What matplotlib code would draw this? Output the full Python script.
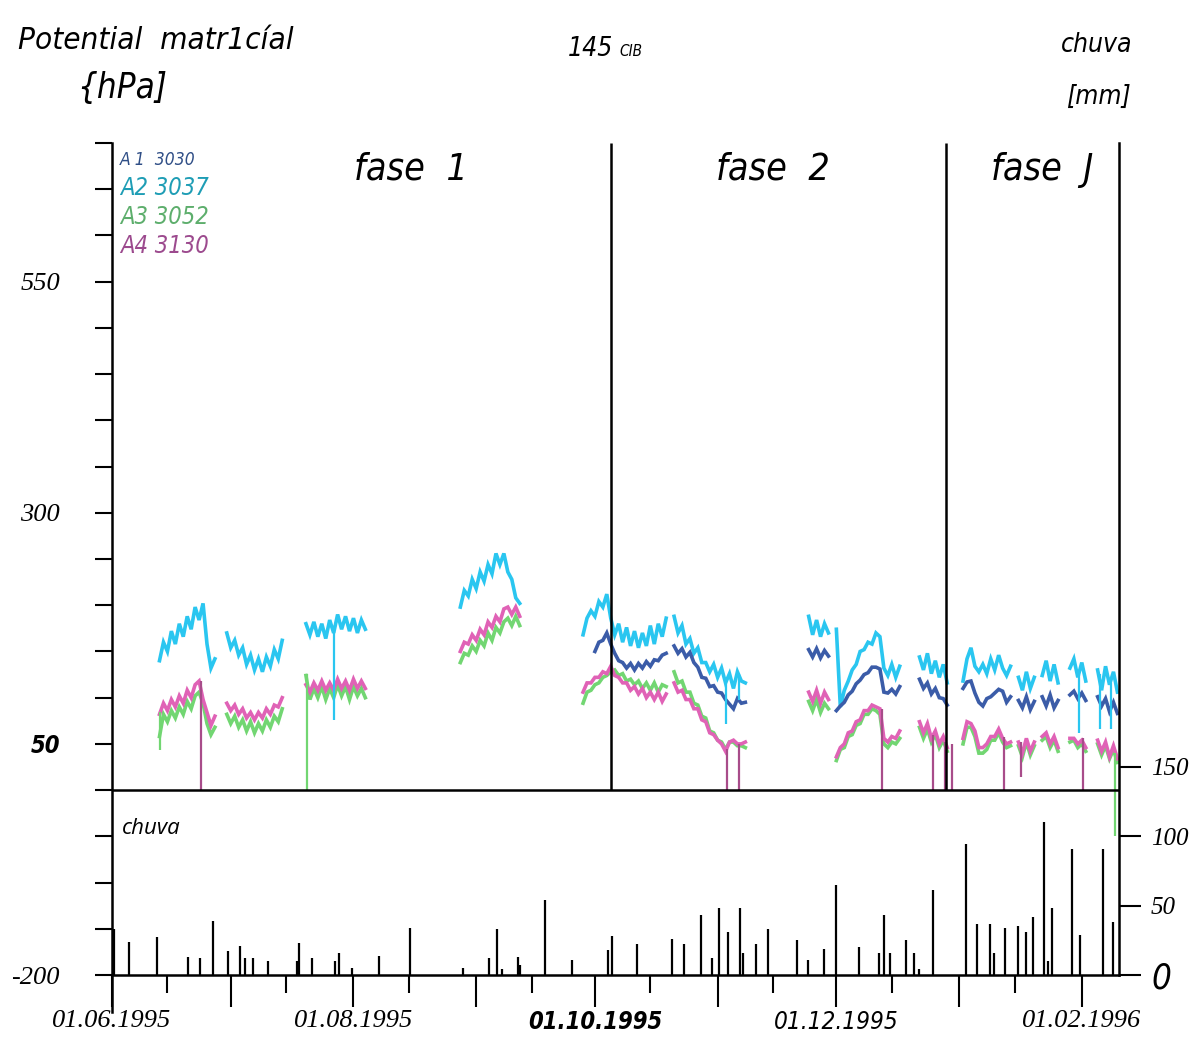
""" Matric potential (tensiometers A1-A4, 145 CIB) and daily rain, 1995/96
"""
import os
import numpy as np
import pandas as pd
import matplotlib
matplotlib.use('Agg')
import matplotlib.pyplot as plt
from matplotlib import font_manager as fm

# time axis: days counted from 01.06.1995
T0 = pd.Timestamp('1995-06-01')
XMAX = 254.4
PHASE_DAYS = [126.0, 210.8]

# ---- tensiometer readings [hPa], one value per day, per data block ----
seg_start = [12, 29, 49, 88, 119, 142, 176, 183, 204, 215, 229, 235, 242, 249]

a2_vals = [
    [140, 160, 150, 172, 158, 180, 166, 188, 174, 198, 184, 202, 158, 132, 142],
    [170, 154, 162, 146, 154, 136, 146, 130, 142, 128, 144, 134, 152, 142, 162],
    [180, 168, 182, 166, 180, 164, 184, 170, 190, 174, 188, 172, 186, 170, 184, 174],
    [198, 216, 210, 228, 218, 236, 226, 244, 234, 256, 244, 256, 236, 228, 208, 202],
    [168, 186, 194, 188, 204, 198, 212, 186, 168, 180, 160, 176, 156, 172, 154, 170,
     156, 178, 158, 180, 166, 186],
    [188, 170, 178, 158, 164, 148, 154, 138, 138, 128, 136, 122, 132, 116, 126, 110,
     128, 118, 116],
    [188, 168, 184, 166, 180, 170],
    [174, 90, 108, 118, 130, 136, 150, 152, 160, 158, 170, 166, 132, 124, 136, 122, 134],
    [144, 130, 148, 126, 140, 122, 136, 116],
    [118, 142, 154, 134, 128, 136, 126, 142, 130, 146, 132, 124, 134],
    [122, 108, 128, 110, 122],
    [124, 140, 118, 136, 116],
    [132, 142, 122, 138, 118],
    [130, 108, 134, 114, 128, 106],
]

# A1 only starts on day 122
a1_start = [122, 142, 176, 183, 204, 215, 229, 235, 242, 249]
a1_vals = [
    [150, 160, 162, 170, 158, 148, 140, 138, 132, 137, 130, 137, 132, 139, 134, 141,
     140, 146, 148],
    [156, 148, 153, 144, 149, 138, 133, 122, 121, 112, 113, 106, 105, 98, 93, 88,
     99, 94, 95],
    [152, 144, 153, 143, 151, 145],
    [86, 91, 95, 103, 107, 115, 119, 125, 127, 133, 133, 131, 106, 105, 109, 104, 112],
    [120, 110, 116, 104, 110, 100, 99, 92],
    [110, 117, 118, 105, 95, 91, 99, 101, 105, 109, 107, 95, 101],
    [97, 89, 101, 87, 96],
    [101, 91, 103, 89, 97],
    [103, 107, 99, 105, 97],
    [101, 91, 99, 85, 95, 83],
]

a3_vals = [
    [58, 82, 74, 86, 78, 90, 82, 96, 88, 102, 106, 94, 72, 60, 68],
    [82, 72, 80, 68, 76, 64, 74, 62, 72, 64, 76, 68, 80, 74, 88],
    [124, 98, 110, 100, 112, 98, 110, 100, 114, 102, 112, 98, 112, 102, 110, 100],
    [138, 148, 146, 156, 150, 162, 156, 170, 162, 176, 170, 182, 186, 178, 188, 178],
    [94, 106, 108, 114, 116, 122, 124, 128, 130, 124, 126, 118, 120, 114, 118, 110,
     116, 108, 116, 106, 114, 112],
    [128, 116, 118, 106, 106, 94, 92, 80, 78, 64, 62, 54, 52, 44, 52, 52, 48, 48, 46],
    [96, 86, 98, 84, 94, 88],
    [32, 44, 46, 58, 60, 70, 72, 82, 82, 88, 86, 82, 50, 46, 52, 50, 56],
    [68, 56, 66, 52, 60, 46, 54, 42],
    [50, 68, 68, 58, 40, 40, 44, 54, 54, 62, 52, 46, 48],
    [48, 36, 52, 38, 48],
    [54, 58, 46, 54, 42],
    [52, 54, 46, 50, 42],
    [50, 38, 48, 34, 44, 30],
]

a4_vals = [
    [82, 94, 86, 98, 90, 102, 94, 108, 100, 114, 118, 98, 84, 70, 80],
    [94, 86, 92, 82, 88, 78, 84, 76, 84, 78, 88, 82, 92, 90, 100],
    [114, 106, 116, 108, 118, 108, 116, 108, 120, 110, 118, 108, 120, 110, 118, 110],
    [150, 160, 158, 168, 162, 174, 168, 182, 176, 188, 182, 196, 198, 190, 198, 188],
    [106, 116, 116, 122, 122, 128, 126, 134, 124, 122, 116, 116, 108, 112, 104, 110,
     100, 106, 98, 106, 96, 104],
    [116, 106, 108, 98, 98, 88, 88, 76, 74, 62, 60, 54, 50, 42, 52, 54, 50, 50, 52],
    [106, 96, 108, 94, 106, 98],
    [36, 46, 50, 62, 64, 74, 76, 86, 86, 92, 90, 88, 56, 52, 58, 56, 64],
    [74, 62, 72, 56, 64, 50, 58, 46],
    [56, 74, 72, 64, 46, 46, 50, 58, 58, 66, 56, 50, 52],
    [52, 40, 56, 42, 52],
    [58, 62, 50, 58, 46],
    [56, 56, 50, 54, 46],
    [54, 42, 52, 36, 48, 34],
]

# single readings that drop far out of the band (day, from, to)
a2_drop_day = [56.2, 155.2, 158.3, 244.2, 249.6, 252.4]
a2_drop_top = [178, 118, 126, 124, 126, 116]
a2_drop_bot = [76, 72, 97, 62, 66, 66]
a3_drop_day = [12.1, 49.3, 253.3]
a3_drop_top = [84, 126, 40]
a3_drop_bot = [43, 0, -50]
a4_drop_day = [22.6, 155.4, 158.4, 194.5, 207.4, 210.4, 212.2, 225.3, 229.6, 245.4]
a4_drop_top = [118, 44, 50, 88, 60, 52, 50, 58, 52, 56]
a4_drop_bot = [0, 0, 0, 0, 0, 0, 0, 0, 14, 0]

# ---- daily rain [mm] ----
rain_day = [0.4, 4.4, 11.3, 19.1, 22.2, 25.4, 29.3, 32.3, 33.6, 35.6,
            39.4, 46.7, 47.2, 50.5, 56.3, 57.3, 60.6, 67.4, 75.2, 88.6,
            95.3, 97.3, 98.5, 102.5, 103.1, 109.5, 116.3, 125.4, 126.4, 132.7,
            141.6, 144.6, 148.9, 151.5, 153.4, 155.6, 158.7, 159.3, 162.6, 165.7,
            173.0, 175.9, 179.8, 182.9, 188.7, 193.7, 195.0, 196.6, 200.5, 202.7,
            203.9, 207.5, 215.8, 218.5, 221.9, 222.8, 225.6, 228.8, 230.8, 232.7,
            235.4, 236.4, 237.5, 242.5, 244.5, 250.3, 252.9]
rain_mm = [33, 24, 27, 13, 12, 39, 17, 21, 12, 12,
           10, 10, 23, 12, 10, 16, 5, 14, 34, 5,
           12, 33, 4, 13, 7, 54, 11, 18, 28, 22,
           26, 22, 43, 12, 48, 31, 48, 16, 22, 33,
           25, 11, 19, 65, 20, 16, 43, 16, 25, 16,
           4, 61, 94, 37, 37, 16, 34, 35, 31, 42,
           110, 10, 48, 91, 29, 91, 38]

names = ['A 1  3030', 'A2 3037', 'A3 3052', 'A4 3130']
line_colors = ['#3b5ca8', '#2ac6f0', '#72d672', '#e062b6']
text_colors = ['#2f4e86', '#1e9db5', '#5dae6c', '#9c4a8e']

SERIF = ['Liberation Serif', 'DejaVu Serif']
W, H = 1195, 1037


def find_font(patterns):
    """ path of the first installed font file whose name starts with a pattern """
    files = sorted({f.fname for f in fm.fontManager.ttflist})
    for p in patterns:
        for fn in files:
            if os.path.basename(fn).lower().startswith(p.lower()):
                return fn
    return None


cond_file = find_font(['NotoSans-ExtraCondensedItalic', 'NotoSans-CondensedItalic',
                       'LiberationSansNarrow-Italic', 'DejaVuSansCondensed-Oblique'])
condb_file = find_font(['NotoSans-CondensedBoldItalic', 'NotoSans-SemiCondensedBoldItalic',
                        'LiberationSansNarrow-BoldItalic',
                        'DejaVuSansCondensed-BoldOblique'])


def cfont(size, bold=False):
    fn = condb_file if bold else cond_file
    if fn is not None:
        return fm.FontProperties(fname=fn, size=size)
    return fm.FontProperties(family=['Liberation Sans', 'DejaVu Sans'], style='italic',
                             weight='bold' if bold else 'normal', size=size * 0.9)


def join_segments(starts, vals):
    """ one x/y pair with NaN gaps between the blocks """
    xs, ys = [], []
    for s, v in zip(starts, vals):
        xs += list(np.arange(s, s + len(v))) + [np.nan]
        ys += list(v) + [np.nan]
    return np.array(xs, dtype=float), np.array(ys, dtype=float)


def fx(px):
    return px / W


def fy(py):
    return 1 - py / H


fig = plt.figure(figsize=(W / 100, H / 100), dpi=100)
ax = fig.add_axes([fx(112), fy(1012), (1119 - 112) / W, (1012 - 143) / H])
ax.set_xlim(0, XMAX)
ax.set_ylim(-240, 700)
# rain axis shares the plot, 0 mm sits on -200 hPa
k = (1012 - 143) / 940 / 1.39
ax2 = ax.twinx()
ax2.set_ylim(-40 * k, 900 * k)

# series
for starts, vals, col in [(seg_start, a2_vals, line_colors[1]),
                          (a1_start, a1_vals, line_colors[0]),
                          (seg_start, a3_vals, line_colors[2]),
                          (seg_start, a4_vals, line_colors[3])]:
    x, y = join_segments(starts, vals)
    ax.plot(x, y, color=col, lw=2.6, solid_joinstyle='miter', zorder=3)
ax.vlines(a2_drop_day, a2_drop_bot, a2_drop_top, color=line_colors[1], lw=1.6, zorder=3)
ax.vlines(a3_drop_day, a3_drop_bot, a3_drop_top, color=line_colors[2], lw=1.6, zorder=3)
ax.vlines(a4_drop_day, a4_drop_bot, a4_drop_top, color='#a84c8a', lw=1.6, zorder=3)

# frame lines
ax.axhline(0, color='k', lw=1.8, zorder=4)
ax.vlines(PHASE_DAYS, 0, 700, color='k', lw=1.8, zorder=4)

# rain bars
ax2.vlines(rain_day, 0, rain_mm, color='k', lw=1.6)

# spines
for s in ['top', 'right']:
    ax.spines[s].set_visible(False)
ax.spines['left'].set_linewidth(1.8)
ax.spines['bottom'].set_position(('data', -200))
ax.spines['bottom'].set_linewidth(1.8)
for s in ['top', 'left', 'bottom']:
    ax2.spines[s].set_visible(False)
ax2.spines['right'].set_bounds(0, 900 * k)
ax2.spines['right'].set_linewidth(1.8)

# left ticks
yt = list(range(-200, 701, 50))
ylab = {550: '550', 300: '300', 50: '50', -200: '-200'}
ax.set_yticks(yt, [ylab.get(v, '') for v in yt])
ax.tick_params(axis='y', direction='out', length=12.5, width=1.5, pad=25)
for t in ax.get_yticklabels():
    if t.get_text() == '50':
        t.set_fontproperties(cfont(17, bold=True))
    else:
        t.set_fontfamily(SERIF)
        t.set_fontstyle('italic')
        t.set_fontsize(19)

# right ticks (rain)
ax2.set_yticks([0, 50, 100, 150], ['0', '50', '100', '150'])
ax2.tick_params(axis='y', direction='out', length=16, width=1.5, pad=7)
for t in ax2.get_yticklabels():
    if t.get_text() == '0':
        t.set_fontproperties(cfont(25))
    else:
        t.set_fontfamily(SERIF)
        t.set_fontstyle('italic')
        t.set_fontsize(18)

# date ticks: month starts long, 15th short
months = pd.date_range('1995-06-01', '1996-02-01', freq='MS')
mid = months[:-1] + pd.Timedelta(days=14)
maj = [(d - T0).days for d in months]
mnr = [(d - T0).days for d in mid]
xlab = [d.strftime('%d.%m.%Y') if i % 2 == 0 else '' for i, d in enumerate(months)]
ax.set_xticks(maj, xlab)
ax.set_xticks(mnr, minor=True)
ax.tick_params(axis='x', which='major', direction='out', length=23, width=1.5, pad=2)
ax.tick_params(axis='x', which='minor', direction='out', length=13, width=1.5)
for t in ax.get_xticklabels():
    txt = t.get_text()
    if txt == '01.10.1995':
        t.set_fontproperties(cfont(17, bold=True))
    elif txt == '01.12.1995':
        t.set_fontproperties(cfont(17.5))
    else:
        t.set_fontfamily(SERIF)
        t.set_fontstyle('italic')
        t.set_fontsize(19)

# header texts
fig.text(fx(18), fy(40), 'Potential  matr1cíal', ha='left', va='center',
         fontproperties=cfont(22.5))
fig.text(fx(122), fy(88), '{hPa]', ha='center', va='center', fontproperties=cfont(25))
fig.text(fx(613), fy(56), '145', ha='right', va='baseline', fontproperties=cfont(19))
fig.text(fx(619), fy(56), 'CIB', ha='left', va='baseline', fontproperties=cfont(11))
fig.text(fx(1132), fy(45), 'chuva', ha='right', va='center', fontproperties=cfont(19))
fig.text(fx(1131), fy(97), '[mm]', ha='right', va='center', fontproperties=cfont(19))
for lab, px in zip(['fase  1', 'fase  2', 'fase  J'], [411, 773, 1042]):
    fig.text(fx(px), fy(170), lab, ha='center', va='center', fontproperties=cfont(27))

# legend written in the series colours
for i, (nm, py) in enumerate(zip(names, [160, 188, 217, 246])):
    fig.text(fx(120), fy(py), nm, ha='left', va='center',
             fontproperties=cfont(12.5 if i == 0 else 17), color=text_colors[i])

ax.text(2.5, -41, 'chuva', ha='left', va='center', style='italic', size=16,
        family=['Open Sans', 'DejaVu Sans'])

fig.savefig('out.png', dpi=100)
